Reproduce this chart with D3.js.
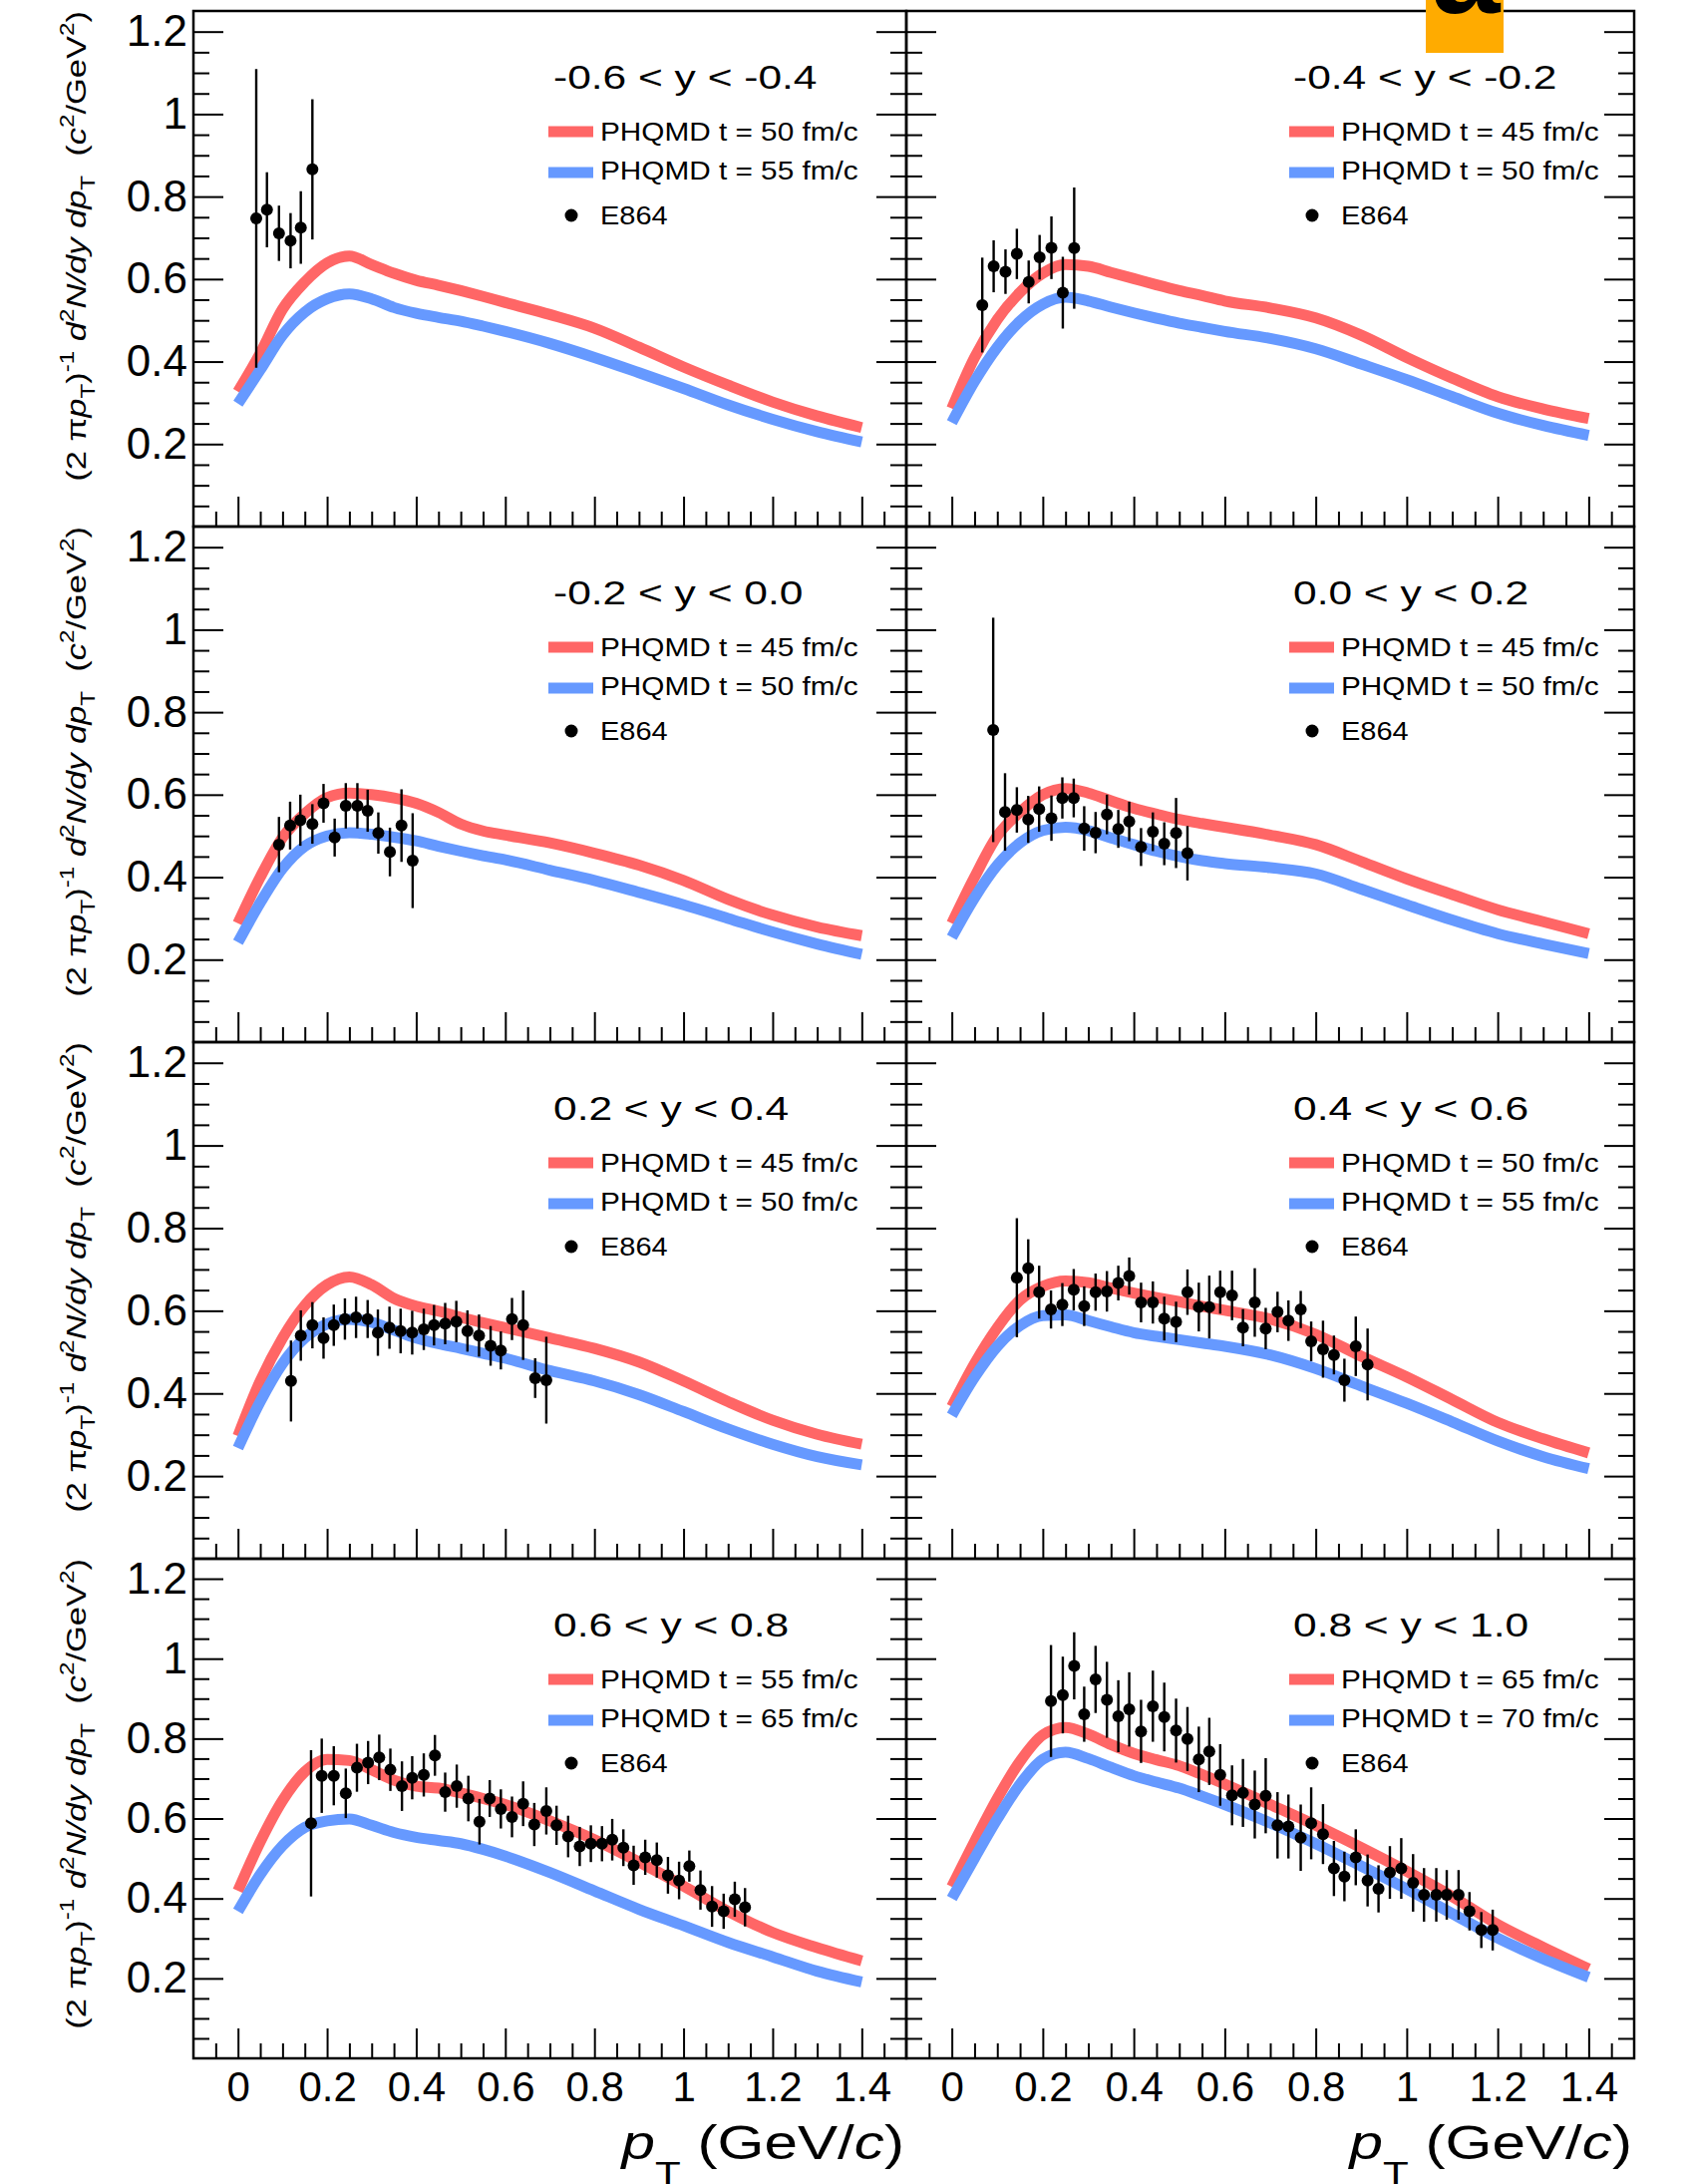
<!DOCTYPE html>
<html>
<head>
<meta charset="utf-8">
<script src="https://cdn.jsdelivr.net/npm/d3@7"></script>
<style>
  body { margin: 0; background: #fff; }
  text { font-family: "Liberation Sans", Arial, Helvetica, sans-serif; fill: #000; }
</style>
</head>
<body>
<svg id="chart" width="1696" height="2190"></svg>
<script>
// pT grid on which the PHQMD curves were read
const ptGrid = [0, 0.05, 0.1, 0.15, 0.2, 0.25, 0.3, 0.35, 0.4, 0.45, 0.5, 0.55, 0.6, 0.7, 0.8, 0.9, 1.0, 1.1, 1.2, 1.3, 1.4];

// -0.6 < y < -0.4
const p1Red  = [0.327,0.42,0.527,0.593,0.639,0.656,0.635,0.614,0.597,0.585,0.572,0.558,0.543,0.514,0.481,0.435,0.387,0.343,0.302,0.268,0.240];
const p1Blue = [0.298,0.38,0.464,0.520,0.552,0.564,0.552,0.531,0.517,0.507,0.498,0.486,0.473,0.444,0.410,0.373,0.335,0.295,0.260,0.230,0.205];
const p1X = [0.041,0.065,0.092,0.118,0.141,0.167];
const p1Y = [0.747,0.768,0.711,0.693,0.725,0.866];
const p1E = [0.362,0.091,0.067,0.067,0.088,0.170];

// -0.4 < y < -0.2
const p2Red  = [0.286,0.41,0.502,0.568,0.614,0.635,0.631,0.616,0.601,0.586,0.572,0.560,0.547,0.530,0.506,0.464,0.410,0.360,0.315,0.285,0.262];
const p2Blue = [0.252,0.352,0.435,0.498,0.539,0.556,0.547,0.532,0.518,0.505,0.493,0.483,0.473,0.456,0.431,0.394,0.356,0.315,0.275,0.245,0.221];
const p2X = [0.067,0.092,0.118,0.143,0.169,0.193,0.219,0.244,0.269];
const p2Y = [0.537,0.631,0.618,0.661,0.593,0.653,0.676,0.567,0.675];
const p2E = [0.115,0.063,0.054,0.061,0.052,0.054,0.076,0.087,0.147];

// -0.2 < y < 0.0
const p3Red  = [0.288,0.40,0.496,0.554,0.593,0.604,0.600,0.592,0.579,0.557,0.529,0.512,0.502,0.483,0.458,0.429,0.392,0.346,0.308,0.279,0.258];
const p3Blue = [0.242,0.338,0.421,0.475,0.500,0.508,0.504,0.497,0.488,0.475,0.463,0.452,0.442,0.417,0.392,0.363,0.333,0.300,0.267,0.238,0.213];
const p3X = [0.092,0.117,0.140,0.167,0.192,0.217,0.242,0.268,0.291,0.315,0.341,0.367,0.392];
const p3Y = [0.479,0.525,0.538,0.529,0.579,0.496,0.573,0.573,0.561,0.507,0.461,0.525,0.440];
const p3E = [0.067,0.058,0.062,0.048,0.047,0.046,0.055,0.055,0.051,0.050,0.059,0.088,0.115];

// 0.0 < y < 0.2
const p4Red  = [0.288,0.40,0.500,0.558,0.600,0.615,0.604,0.585,0.567,0.553,0.540,0.530,0.521,0.502,0.479,0.438,0.396,0.358,0.321,0.292,0.263];
const p4Blue = [0.254,0.35,0.429,0.483,0.513,0.521,0.513,0.495,0.479,0.463,0.450,0.440,0.433,0.423,0.408,0.371,0.333,0.296,0.263,0.238,0.215];
const p4X = [0.091,0.117,0.143,0.168,0.192,0.219,0.243,0.268,0.291,0.316,0.341,0.366,0.390,0.416,0.442,0.467,0.493,0.518];
const p4Y = [0.757,0.558,0.563,0.540,0.565,0.543,0.592,0.592,0.518,0.508,0.552,0.517,0.535,0.473,0.510,0.481,0.507,0.458];
const p4E = [0.272,0.094,0.055,0.057,0.055,0.055,0.050,0.047,0.054,0.050,0.048,0.046,0.048,0.046,0.047,0.052,0.085,0.066];

// 0.2 < y < 0.4
const p5Red  = [0.297,0.43,0.534,0.613,0.663,0.682,0.663,0.630,0.611,0.599,0.584,0.571,0.559,0.534,0.509,0.476,0.430,0.380,0.335,0.301,0.277];
const p5Blue = [0.268,0.38,0.472,0.534,0.568,0.579,0.572,0.553,0.534,0.520,0.509,0.497,0.485,0.455,0.430,0.397,0.356,0.314,0.277,0.247,0.227];
const p5X = [0.119,0.141,0.167,0.192,0.215,0.240,0.265,0.291,0.314,0.340,0.365,0.391,0.417,0.440,0.465,0.490,0.515,0.541,0.567,0.590,0.615,0.640,0.667,0.692];
const p5Y = [0.430,0.540,0.565,0.534,0.565,0.580,0.584,0.580,0.547,0.559,0.551,0.547,0.555,0.565,0.569,0.574,0.551,0.540,0.515,0.504,0.580,0.565,0.437,0.432];
const p5E = [0.098,0.061,0.056,0.050,0.050,0.050,0.050,0.046,0.056,0.051,0.054,0.053,0.050,0.049,0.050,0.050,0.050,0.051,0.048,0.046,0.051,0.084,0.048,0.105];

// 0.4 < y < 0.6
const p6Red  = [0.368,0.472,0.559,0.626,0.659,0.672,0.668,0.655,0.643,0.632,0.622,0.611,0.601,0.580,0.543,0.490,0.440,0.385,0.330,0.290,0.256];
const p6Blue = [0.347,0.439,0.514,0.564,0.588,0.590,0.576,0.561,0.547,0.538,0.530,0.522,0.514,0.493,0.460,0.418,0.376,0.331,0.285,0.247,0.218];
const p6X = [0.143,0.168,0.192,0.218,0.243,0.268,0.291,0.316,0.341,0.366,0.390,0.416,0.442,0.467,0.493,0.518,0.543,0.566,0.590,0.616,0.640,0.666,0.690,0.716,0.740,0.767,0.790,0.816,0.840,0.863,0.888,0.914];
const p6Y = [0.680,0.703,0.645,0.603,0.615,0.651,0.611,0.645,0.647,0.667,0.684,0.620,0.620,0.581,0.573,0.645,0.609,0.609,0.645,0.637,0.559,0.620,0.557,0.597,0.576,0.603,0.526,0.507,0.493,0.432,0.514,0.470];
const p6E = [0.144,0.070,0.064,0.046,0.052,0.050,0.048,0.045,0.049,0.042,0.045,0.048,0.051,0.053,0.049,0.055,0.059,0.076,0.052,0.060,0.045,0.083,0.050,0.049,0.049,0.045,0.048,0.069,0.047,0.052,0.072,0.087];

// 0.6 < y < 0.8
const p7Red  = [0.419,0.542,0.645,0.717,0.748,0.745,0.722,0.696,0.681,0.676,0.664,0.650,0.635,0.594,0.547,0.491,0.431,0.368,0.315,0.277,0.244];
const p7Blue = [0.368,0.460,0.532,0.578,0.594,0.599,0.583,0.565,0.553,0.545,0.537,0.523,0.506,0.465,0.419,0.373,0.332,0.290,0.254,0.218,0.191];
const p7X = [0.164,0.188,0.215,0.242,0.267,0.292,0.317,0.342,0.368,0.391,0.417,0.442,0.465,0.491,0.517,0.542,0.565,0.590,0.615,0.640,0.665,0.692,0.715,0.741,0.767,0.792,0.817,0.840,0.865,0.888,0.914,0.940,0.965,0.990,1.013,1.038,1.064,1.090,1.115,1.138];
const p7Y = [0.588,0.707,0.707,0.663,0.727,0.740,0.753,0.722,0.681,0.702,0.709,0.758,0.666,0.681,0.650,0.592,0.650,0.624,0.604,0.637,0.585,0.619,0.583,0.555,0.530,0.537,0.537,0.547,0.527,0.483,0.503,0.496,0.458,0.445,0.481,0.421,0.380,0.368,0.398,0.378];
const p7E = [0.183,0.093,0.074,0.062,0.060,0.054,0.057,0.053,0.062,0.054,0.054,0.051,0.049,0.054,0.057,0.057,0.046,0.049,0.051,0.056,0.054,0.059,0.049,0.052,0.049,0.046,0.044,0.052,0.046,0.049,0.044,0.044,0.046,0.047,0.039,0.049,0.051,0.044,0.044,0.048];

// 0.8 < y < 1.0
const p8Red  = [0.429,0.542,0.650,0.743,0.809,0.828,0.811,0.785,0.763,0.747,0.732,0.710,0.686,0.635,0.583,0.527,0.468,0.405,0.335,0.278,0.224];
const p8Blue = [0.400,0.501,0.599,0.686,0.748,0.766,0.750,0.728,0.707,0.691,0.676,0.656,0.635,0.589,0.537,0.481,0.424,0.362,0.301,0.249,0.203];
const p8X = [0.218,0.244,0.269,0.291,0.316,0.341,0.366,0.390,0.416,0.442,0.467,0.493,0.518,0.543,0.566,0.590,0.616,0.640,0.666,0.690,0.716,0.740,0.767,0.790,0.816,0.840,0.863,0.888,0.914,0.938,0.963,0.988,1.014,1.038,1.065,1.088,1.114,1.138,1.164,1.189];
const p8Y = [0.894,0.909,0.982,0.861,0.948,0.897,0.856,0.873,0.818,0.881,0.854,0.820,0.799,0.748,0.768,0.709,0.658,0.664,0.635,0.657,0.583,0.580,0.552,0.588,0.561,0.475,0.455,0.503,0.445,0.424,0.465,0.475,0.439,0.409,0.409,0.409,0.409,0.368,0.321,0.321];
const p8E = [0.140,0.096,0.084,0.069,0.084,0.095,0.090,0.093,0.079,0.089,0.086,0.080,0.080,0.082,0.084,0.077,0.075,0.085,0.085,0.094,0.083,0.080,0.083,0.090,0.075,0.069,0.062,0.070,0.065,0.059,0.066,0.076,0.072,0.067,0.067,0.062,0.062,0.048,0.045,0.051];

const rapidityBins = ["-0.6 < y < -0.4", "-0.4 < y < -0.2", "-0.2 < y < 0.0", "0.0 < y < 0.2",
                      "0.2 < y < 0.4", "0.4 < y < 0.6", "0.6 < y < 0.8", "0.8 < y < 1.0"];
const redTimes  = [50, 45, 45, 45, 45, 50, 55, 65];
const blueTimes = [55, 50, 50, 50, 50, 55, 65, 70];

const xMajor = [0, 0.2, 0.4, 0.6, 0.8, 1, 1.2, 1.4];
const yMajor = [0.2, 0.4, 0.6, 0.8, 1, 1.2];

const panels = [
  {x: p1X, y: p1Y, e: p1E, red: p1Red, blue: p1Blue},
  {x: p2X, y: p2Y, e: p2E, red: p2Red, blue: p2Blue},
  {x: p3X, y: p3Y, e: p3E, red: p3Red, blue: p3Blue},
  {x: p4X, y: p4Y, e: p4E, red: p4Red, blue: p4Blue},
  {x: p5X, y: p5Y, e: p5E, red: p5Red, blue: p5Blue},
  {x: p6X, y: p6Y, e: p6E, red: p6Red, blue: p6Blue},
  {x: p7X, y: p7Y, e: p7E, red: p7Red, blue: p7Blue},
  {x: p8X, y: p8Y, e: p8E, red: p8Red, blue: p8Blue}
];

// layout
const colL = [194, 909], colR = [909, 1639];
const rowT = [11, 528, 1045, 1563], rowB = [528, 1045, 1563, 2064];
const legX = [550, 1293], hdrX = [555, 1297];
const RED = "#ff6666", BLUE = "#6699ff";
const FONT = "'Liberation Sans', Arial, Helvetica, sans-serif";
const STRETCH = 1.25;   // latex text in the original is drawn wider than Arial

const xMinor = d3.range(-1, 30).map(k => +(k * 0.05).toFixed(2)).filter(v => !xMajor.includes(v));
const yMinor = d3.range(1, 25).map(k => +(k * 0.05).toFixed(2)).filter(v => !yMajor.includes(v));

const svg = d3.select("#chart");

function tickAxis(g, axis, vals, size, transform) {
  g.append("g").attr("transform", transform)
    .call(axis.tickValues(vals).tickSize(size).tickFormat(""))
    .call(a => a.select(".domain").remove())
    .selectAll("line").attr("stroke", "#000").attr("stroke-width", 2);
}

// text with sub/superscripts, segs = [text, "sup"|"sub"|null, italic]
function rich(sel, segs, fs, subShift) {
  let cur = 0;
  segs.forEach(([t, kind, it]) => {
    const target = kind === "sup" ? -0.42 * fs : kind === "sub" ? subShift * fs : 0;
    sel.append("tspan").attr("dy", target - cur)
      .attr("font-size", kind ? fs * 0.7 : fs)
      .attr("font-style", it ? "italic" : "normal")
      .text(t);
    cur = target;
  });
}

panels.forEach((p, i) => {
  const col = i % 2, row = Math.floor(i / 2);
  const x = d3.scaleLinear().domain([-0.1, 1.5]).range([colL[col], colR[col]]);
  const y = d3.scaleLinear().domain([0, 1.25]).range([rowB[row], rowT[row]]);
  const g = svg.append("g");

  const line = d3.line().x((d, k) => x(ptGrid[k])).y(d => y(d)).curve(d3.curveMonotoneX);
  g.append("path").attr("d", line(p.red)).attr("fill", "none")
    .attr("stroke", RED).attr("stroke-width", 11);
  g.append("path").attr("d", line(p.blue)).attr("fill", "none")
    .attr("stroke", BLUE).attr("stroke-width", 11);

  // E864 points
  g.selectAll("line.err").data(p.y).join("line").attr("class", "err")
    .attr("x1", (d, k) => x(p.x[k])).attr("x2", (d, k) => x(p.x[k]))
    .attr("y1", (d, k) => y(d - p.e[k])).attr("y2", (d, k) => y(d + p.e[k]))
    .attr("stroke", "#000").attr("stroke-width", 2.4);
  g.selectAll("circle.pt").data(p.y).join("circle").attr("class", "pt")
    .attr("cx", (d, k) => x(p.x[k])).attr("cy", d => y(d))
    .attr("r", 6).attr("fill", "#000");

  // ticks
  tickAxis(g, d3.axisTop(x), xMajor, 30, `translate(0,${rowB[row]})`);
  tickAxis(g, d3.axisTop(x), xMinor, 15, `translate(0,${rowB[row]})`);
  tickAxis(g, d3.axisRight(y), yMajor, 30, `translate(${colL[col]},0)`);
  tickAxis(g, d3.axisRight(y), yMinor, 16, `translate(${colL[col]},0)`);
  tickAxis(g, d3.axisLeft(y), yMajor, 30, `translate(${colR[col]},0)`);
  tickAxis(g, d3.axisLeft(y), yMinor, 16, `translate(${colR[col]},0)`);

  g.append("rect")
    .attr("x", colL[col]).attr("y", rowT[row])
    .attr("width", colR[col] - colL[col]).attr("height", rowB[row] - rowT[row])
    .attr("fill", "none").attr("stroke", "#000").attr("stroke-width", 2.5);

  // tick labels
  if (col === 0) {
    g.append("g").attr("transform", `translate(${colL[0]},0)`)
      .call(d3.axisLeft(y).tickValues(yMajor).tickSize(0).tickPadding(6).tickFormat(d3.format("~g")))
      .call(a => a.select(".domain").remove())
      .attr("font-size", 44).attr("font-family", FONT);
  }
  if (row === 3) {
    g.append("g").attr("transform", `translate(0,${rowB[3]})`)
      .call(d3.axisBottom(x).tickValues(xMajor).tickSize(0).tickPadding(13).tickFormat(d3.format("~g")))
      .call(a => a.select(".domain").remove())
      .attr("font-size", 42).attr("font-family", FONT);
  }

  // legend
  const ty = rowT[row];
  g.append("text").attr("transform", `translate(${hdrX[col]},${ty + 78}) scale(${STRETCH},1)`)
    .attr("font-size", 34).style("white-space", "pre").text(rapidityBins[i]);
  [[RED, 121, 130, redTimes[i]], [BLUE, 162, 169, blueTimes[i]]].forEach(([c, ly, tyb, t]) => {
    g.append("line").attr("x1", legX[col]).attr("x2", legX[col] + 45)
      .attr("y1", ty + ly).attr("y2", ty + ly)
      .attr("stroke", c).attr("stroke-width", 11);
    g.append("text").attr("transform", `translate(${legX[col] + 52},${ty + tyb}) scale(1.19,1)`)
      .attr("font-size", 25).style("white-space", "pre").text(`PHQMD t = ${t} fm/c`);
  });
  g.append("circle").attr("cx", legX[col] + 23).attr("cy", ty + 205).attr("r", 6.5).attr("fill", "#000");
  g.append("text").attr("transform", `translate(${legX[col] + 52},${ty + 214}) scale(1.16,1)`)
    .attr("font-size", 25).text("E864");
});

// y-axis titles
const yTitleSegs = [["(2 π", null, false], ["p", null, true], ["T", "sub", false], [")", null, false],
  ["-1", "sup", false], [" ", null, false], ["d", null, true], ["2", "sup", false],
  ["N/dy dp", null, true], ["T", "sub", false], ["  (", null, false], ["c", null, true],
  ["2", "sup", false], ["/GeV", null, false], ["2", "sup", false], [")", null, false]];
rowT.forEach(t => {
  const yt = svg.append("text").attr("text-anchor", "end").style("white-space", "pre");
  rich(yt, yTitleSegs, 28, 0.32);
  const w = yt.node().getBBox().width;
  yt.attr("transform", `translate(86,${t}) rotate(-90) scale(${472 / w},1)`);
});

// x-axis titles
const xTitleSegs = [["p", null, true], ["T", "sub", false], [" (GeV/", null, false], ["c", null, true], [")", null, false]];
[907, 1637].forEach(xr => {
  const xt = svg.append("text").attr("text-anchor", "end").style("white-space", "pre");
  rich(xt, xTitleSegs, 48, 0.55);
  const w = xt.node().getBBox().width;
  xt.attr("transform", `translate(${xr},2165) scale(${286 / w},1)`);
});

// cropped panel letter
svg.append("rect").attr("x", 1430).attr("y", 0).attr("width", 78).attr("height", 53).attr("fill", "#ffab00");
svg.append("text").attr("x", 1470).attr("y", 13).attr("text-anchor", "middle")
  .attr("font-size", 124).attr("font-weight", "bold").text("a");
</script>
</body>
</html>
